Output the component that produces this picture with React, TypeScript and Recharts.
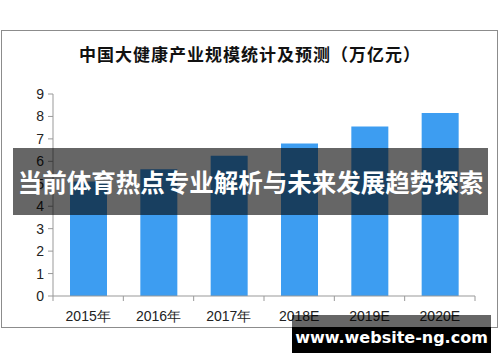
import React from 'react';
import { BarChart, Bar, XAxis, YAxis } from 'recharts';

const years = ['2015年', '2016年', '2017年', '2018E', '2019E', '2020E'];
const scale = [5.1, 5.65, 6.25, 6.8, 7.55, 8.15];
const yTicks = [0, 1, 2, 3, 4, 5, 6, 7, 8, 9];

const title = '中国大健康产业规模统计及预测（万亿元）';
const banner = '当前体育热点专业解析与未来发展趋势探索';
const site = 'www.website-ng.com';

const data = years.map((name, i) => ({ name, value: scale[i] }));

// category ticks sit on the band edges, not the centres
const EdgeTick = (props: any) => {
  const { x, y, payload, index, visibleTicksCount, width } = props;
  const band = width / years.length;
  const left = x - band / 2;
  const last = index === (visibleTicksCount ?? years.length) - 1;
  return (
    <g>
      <line x1={left} y1={y - 8} x2={left} y2={y - 3} stroke="#999" />
      {last && <line x1={x + band / 2} y1={y - 8} x2={x + band / 2} y2={y - 3} stroke="#999" />}
      <text x={x} y={y + 17} textAnchor="middle" fontSize={14} fill="#222" fontFamily="Liberation Sans">
        {payload.value}
      </text>
    </g>
  );
};

export default function App() {
  return (
    <div style={{ position: 'fixed', left: 0, top: 0, width: 500, height: 362, background: '#fff', overflow: 'hidden' }}>
      <div style={{ position: 'absolute', left: 1, top: 30, width: 497, height: 298, border: '1px solid #8c8c8c', boxSizing: 'border-box' }} />
      <div style={{ position: 'absolute', left: 0, top: 43, width: 500, textAlign: 'center', fontFamily: '"Noto Sans CJK SC"', fontWeight: 'bold', fontSize: 17, letterSpacing: 1, color: '#111', lineHeight: '22px' }}>
        {title}
      </div>
      <div style={{ position: 'absolute', left: 0, top: 0 }}>
        <BarChart width={500} height={362} data={data} margin={{ top: 94, right: 25, left: 13, bottom: 36 }}>
          <YAxis
            domain={[0, 9]}
            ticks={yTicks}
            interval={0}
            width={40}
            stroke="#999"
            tickSize={5}
            tickMargin={4}
            tick={{ fontSize: 14, fill: '#222', fontFamily: 'Liberation Sans' }}
          />
          <XAxis dataKey="name" stroke="#999" tickLine={false} interval={0} height={30} tick={<EdgeTick />} />
          <Bar dataKey="value" fill="#3d9df1" barSize={37} isAnimationActive={false} />
        </BarChart>
      </div>
      <div style={{ position: 'absolute', left: 13, top: 148, width: 475, height: 67, background: 'rgba(0,0,0,0.6)', color: '#fff', fontFamily: '"Noto Sans CJK SC"', fontWeight: 'bold', fontSize: 24.5, lineHeight: '67px', textAlign: 'center', whiteSpace: 'nowrap' }}>
        {banner}
      </div>
      <div style={{ position: 'absolute', left: 292, top: 315, width: 199, height: 12, background: 'rgba(0,0,0,0.6)' }} />
      <div style={{ position: 'absolute', left: 292, top: 327, width: 199, height: 26, background: '#000', color: '#fff', fontFamily: '"DejaVu Sans"', fontWeight: 'bold', fontSize: 16, lineHeight: '22px', textAlign: 'center', whiteSpace: 'nowrap' }}>
        {site}
      </div>
    </div>
  );
}
